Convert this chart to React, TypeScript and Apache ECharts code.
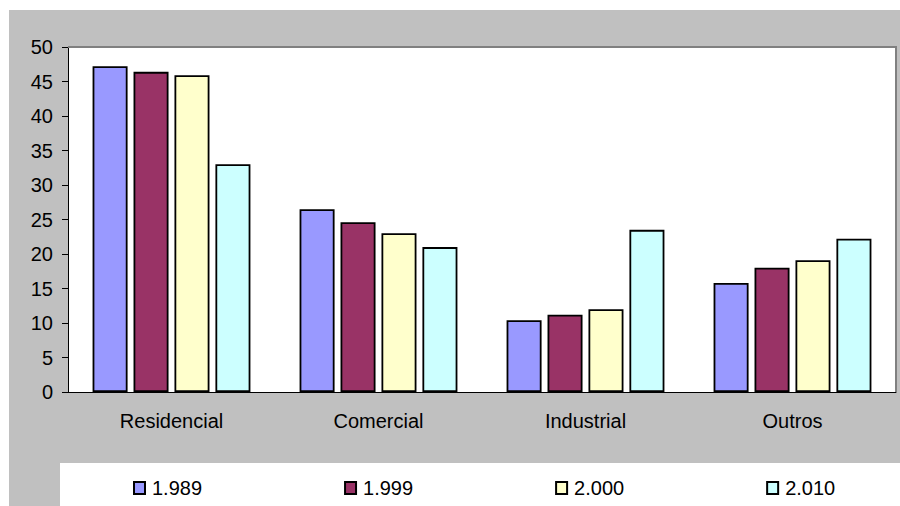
import React, { useEffect, useRef } from "react";
import * as echarts from "echarts";

const categories = ["Residencial", "Comercial", "Industrial", "Outros"];
const seriesNames = ["1.989", "1.999", "2.000", "2.010"];
const s1989 = [47.2, 26.5, 10.4, 15.8];
const s1999 = [46.4, 24.6, 11.2, 18.0];
const s2000 = [45.9, 23.0, 12.0, 19.1];
const s2010 = [33.0, 21.0, 23.5, 22.2];
const seriesColors = ["#9999FF", "#993366", "#FFFFCC", "#CCFFFF"];

export default function App() {
  const ref = useRef<HTMLDivElement>(null);
  useEffect(() => {
    if (!ref.current) return;
    const chart = echarts.init(ref.current, null, { renderer: "svg" });
    const font = "'Liberation Sans', Arial, sans-serif";
    const data = [s1989, s1999, s2000, s2010];
    chart.setOption({
      animation: false,
      backgroundColor: "#ffffff",
      graphic: [
        { type: "rect", z: -100, shape: { x: 9, y: 10, width: 891, height: 496 }, style: { fill: "#C0C0C0" } },
        { type: "rect", z: -50, shape: { x: 60, y: 463, width: 840, height: 43 }, style: { fill: "#ffffff" } },
        { type: "line", z: 10, shape: { x1: 68, y1: 47, x2: 896, y2: 47 }, style: { stroke: "#808080", lineWidth: 2 } },
        { type: "line", z: 10, shape: { x1: 896, y1: 46, x2: 896, y2: 392 }, style: { stroke: "#808080", lineWidth: 2 } },
      ],
      grid: {
        show: true,
        backgroundColor: "#ffffff",
        borderWidth: 0,
        left: 68,
        top: 47,
        right: 4,
        bottom: 114,
      },
      legend: {
        data: seriesNames,
        left: 128,
        top: 473,
        icon: "rect",
        itemWidth: 11,
        itemHeight: 12,
        itemGap: 142,
        textStyle: { fontSize: 20, color: "#000", fontFamily: font, padding: [0, 0, 0, 2], width: 50, overflow: "none" },
      },
      xAxis: {
        type: "category",
        data: categories,
        axisLine: { lineStyle: { color: "#000", width: 1 } },
        axisTick: { length: 6, lineStyle: { color: "#000" } },
        axisLabel: { fontSize: 20, color: "#000", fontFamily: font, margin: 19 },
      },
      yAxis: {
        type: "value",
        min: 0,
        max: 50,
        interval: 5,
        axisLine: { show: true, lineStyle: { color: "#000", width: 1 } },
        axisTick: { show: true, length: 6, lineStyle: { color: "#000" } },
        splitLine: { show: false },
        axisLabel: { fontSize: 20, color: "#000", fontFamily: font, margin: 15 },
      },
      series: seriesNames.map((name, i) => ({
        name,
        type: "bar",
        data: data[i],
        barWidth: 35,
        barGap: "17%",
        itemStyle: { color: seriesColors[i], borderColor: "#000", borderWidth: 1.8 },
      })),
    });
    return () => chart.dispose();
  }, []);
  return <div ref={ref} style={{ position: "absolute", left: 0, top: 0, width: 900, height: 506 }} />;
}
